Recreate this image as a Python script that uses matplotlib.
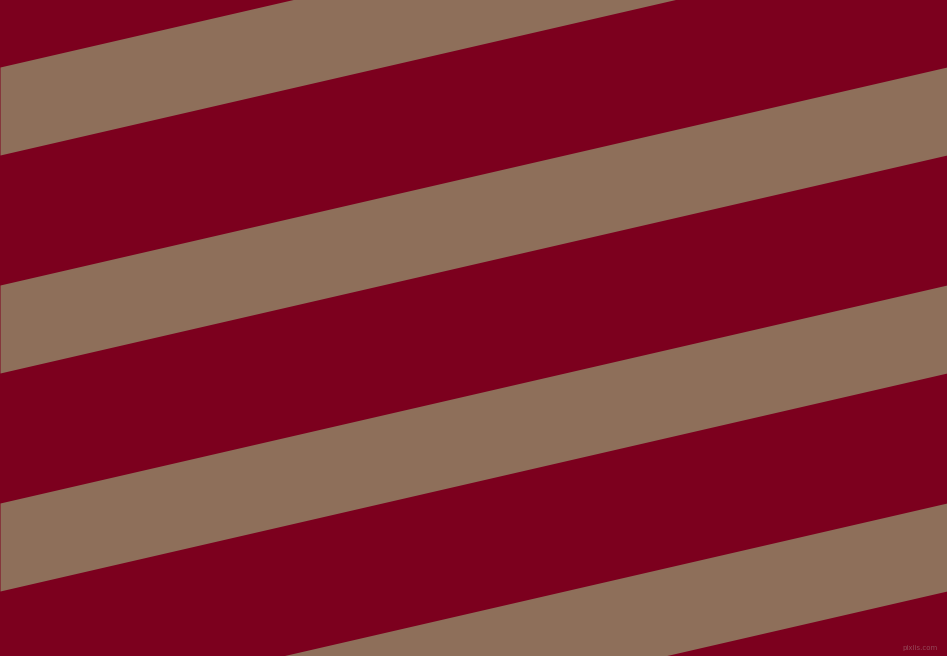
import matplotlib
matplotlib.use('Agg')

import numpy as np
import matplotlib.pyplot as plt

# stripe edges (pixel rows at the left and right border)
band_top_left = [67, 285, 503, 721]
band_top_right = [-151, 67, 285, 503]
band_height = 88

background = '#7c001e'
stripe = '#8e6f5a'

W, H = 947, 656

fig = plt.figure(figsize=(W / 100, H / 100), dpi=100)
ax = fig.add_axes([0, 0, 1, 1])
ax.set_facecolor(background)
fig.patch.set_facecolor(background)

x = np.array([0, W])
for top_l, top_r in zip(band_top_left, band_top_right):
    top = np.array([top_l, top_r])
    ax.fill_between(x, top, top + band_height, color=stripe, lw=0,
                    antialiased=True)

ax.text(938, 648, 'pixlis.com', color='#9a5a68', fontsize=5,
        ha='right', va='center', alpha=0.8)

ax.set_xlim(0, W)
ax.set_ylim(H, 0)
ax.axis('off')

fig.savefig('out.png', dpi=100, facecolor=background)
